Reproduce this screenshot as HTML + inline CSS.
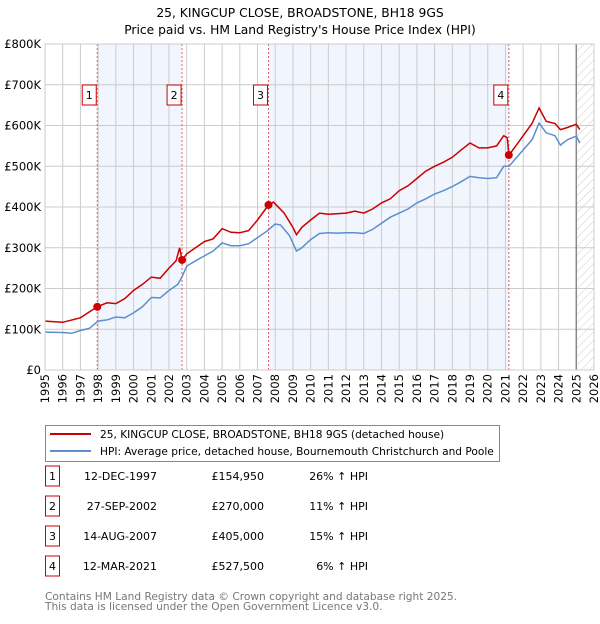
<!DOCTYPE html>
<html><head><meta charset="utf-8"><style>
body{margin:0;background:#fff;font-family:"DejaVu Sans","Liberation Sans",sans-serif;}
svg text{font-family:"DejaVu Sans","Liberation Sans",sans-serif;}
</style></head><body>
<svg id="chart" width="600" height="620" xmlns="http://www.w3.org/2000/svg">
<defs><pattern id="hatch" width="6" height="6" patternUnits="userSpaceOnUse" patternTransform="rotate(45)"><line x1="0" y1="0" x2="0" y2="6" stroke="#ccc" stroke-width="1"/></pattern></defs>
<text x="300" y="17" text-anchor="middle" font-size="12.3">25, KINGCUP CLOSE, BROADSTONE, BH18 9GS</text>
<text x="300" y="34" text-anchor="middle" font-size="12.3">Price paid vs. HM Land Registry's House Price Index (HPI)</text>
<g id="plot"></g>
<g>
<rect x="45.5" y="425.5" width="454" height="36" fill="#fff" stroke="#888"/>
<line x1="50" y1="434" x2="91" y2="434" stroke="#cc0000" stroke-width="2"/>
<text x="100" y="438" font-size="10.6">25, KINGCUP CLOSE, BROADSTONE, BH18 9GS (detached house)</text>
<line x1="50" y1="451" x2="91" y2="451" stroke="#5b8fd0" stroke-width="2"/>
<text x="100" y="455" font-size="10.6">HPI: Average price, detached house, Bournemouth Christchurch and Poole</text>
</g>
<g id="table"></g>
<text x="45" y="600" font-size="10.6" fill="#777">Contains HM Land Registry data © Crown copyright and database right 2025.</text>
<text x="45" y="610" font-size="10.6" fill="#777">This data is licensed under the Open Government Licence v3.0.</text>
</svg>
<script>
const hpiYears=[1995,1996,1996.5,1997,1997.5,1998,1998.5,1999,1999.5,2000,2000.5,2001,2001.5,2002,2002.5,2002.75,2003,2003.5,2004,2004.5,2005,2005.5,2006,2006.5,2007,2007.5,2008,2008.3,2008.8,2009.2,2009.5,2010,2010.5,2011,2011.5,2012,2012.5,2013,2013.5,2014,2014.5,2015,2015.5,2016,2016.5,2017,2017.5,2018,2018.5,2019,2019.5,2020,2020.5,2020.9,2021.2,2021.5,2022,2022.5,2022.9,2023.3,2023.8,2024.1,2024.5,2025.0,2025.2];
const hpiValues=[93,92,90,97,102,120,123,130,128,140,155,178,177,195,210,230,255,268,280,292,312,305,305,310,325,340,358,356,330,292,300,320,335,337,336,337,337,335,345,360,375,385,395,410,420,432,440,450,462,475,472,470,472,500,500,515,540,565,606,582,575,552,565,574,557];
const priceYears=[1995,1996,1997,1997.95,1998.5,1999,1999.5,2000,2000.5,2001,2001.5,2002,2002.4,2002.6,2002.74,2003,2003.5,2004,2004.5,2005,2005.5,2006,2006.5,2007,2007.62,2007.9,2008.5,2009,2009.2,2009.5,2010,2010.5,2011,2012,2012.5,2013,2013.5,2014,2014.5,2015,2015.5,2016,2016.5,2017,2017.5,2018,2018.5,2019,2019.5,2020,2020.5,2020.9,2021.1,2021.2,2021.5,2022,2022.5,2022.9,2023.3,2023.8,2024.1,2024.5,2025.0,2025.2];
const priceValues=[120,117,128,155,165,163,175,195,210,228,225,250,268,300,270,285,300,315,322,347,338,337,342,368,405,412,385,350,332,350,368,385,382,385,390,385,395,410,420,440,452,470,488,500,510,522,540,557,545,545,550,575,570,527.5,545,575,605,643,610,605,590,595,603,590];
const saleDates=[1997.95,2002.74,2007.62,2021.19];
const salePrices=[154.95,270,405,527.5];
const saleLabels=["1","2","3","4"];
const saleDateText=["12-DEC-1997","27-SEP-2002","14-AUG-2007","12-MAR-2021"];
const salePriceText=["£154,950","£270,000","£405,000","£527,500"];
const saleHpiText=["26% ↑ HPI","11% ↑ HPI","15% ↑ HPI","6% ↑ HPI"];
const yTicks=[0,100,200,300,400,500,600,700,800];
const yTickLabels=["£0","£100K","£200K","£300K","£400K","£500K","£600K","£700K","£800K"];
const xTicks=[1995,1996,1997,1998,1999,2000,2001,2002,2003,2004,2005,2006,2007,2008,2009,2010,2011,2012,2013,2014,2015,2016,2017,2018,2019,2020,2021,2022,2023,2024,2025,2026];
const dataEnd=2025.0;

const X0=45,X1=594,Y0=370,Y1=44;
const x=v=>X0+(v-1995)/(2026-1995)*(X1-X0);
const y=v=>Y0-v/800*(Y0-Y1);
const NS="http://www.w3.org/2000/svg";
const plot=document.getElementById('plot');
function mk(tag,attrs,parent,text){const e=document.createElementNS(NS,tag);for(const k in attrs)e.setAttribute(k,attrs[k]);if(text!==undefined)e.textContent=text;(parent||plot).appendChild(e);return e;}
for(let i=0;i<saleDates.length-1;i+=2){
  const r=mk('rect',{x:x(saleDates[i]),y:Y1,width:x(saleDates[i+1])-x(saleDates[i]),height:Y0-Y1,fill:'#eef3fc',opacity:0.8});
  
  
}
const hr=mk('rect',{x:x(dataEnd),y:Y1,width:X1-x(dataEnd),height:Y0-Y1,fill:'url(#hatch)'});


yTicks.forEach((t,i)=>{
  const l=mk('line',{x1:X0,x2:X1,y1:y(t),y2:y(t),stroke:'#ccc'});
  
  
  const tx=mk('text',{x:X0-4,y:y(t)+4,'text-anchor':'end','font-size':11.5},plot,yTickLabels[i]);
  
  
});
xTicks.forEach(t=>{
  const l=mk('line',{x1:x(t),x2:x(t),y1:Y1,y2:Y0,stroke:'#ccc'});
  
  
  const tx=mk('text',{x:0,y:0,'text-anchor':'end','font-size':11.5,transform:`translate(${x(t)+4},${Y0+4}) rotate(-90)`},plot,String(t));
  
  
});
const dl=mk('line',{x1:x(dataEnd),x2:x(dataEnd),y1:Y1,y2:Y0,stroke:'#888','stroke-width':1.5});


saleDates.forEach((d,i)=>{
  const l=mk('line',{x1:x(d),x2:x(d),y1:Y1,y2:Y0,stroke:'#e06060','stroke-dasharray':'2,2'});
  
  
  const g=mk('g',{});
  
  
  mk('rect',{x:x(d)-15,y:85,width:14,height:20,fill:'#fff',stroke:'#cc0000'},g);
  mk('text',{x:x(d)-8,y:99,'text-anchor':'middle','font-size':11},g,saleLabels[i]);
});
function path(xs,vs){return xs.map((v,i)=>(i?'L':'M')+x(v).toFixed(1)+','+y(vs[i]).toFixed(1)).join('');}
const hp=mk('path',{d:path(hpiYears,hpiValues),fill:'none',stroke:'#5b8fd0','stroke-width':1.5});


const pp=mk('path',{d:path(priceYears,priceValues),fill:'none',stroke:'#cc0000','stroke-width':1.5});


saleDates.forEach((d,i)=>{
  const c=mk('circle',{cx:x(d),cy:y(salePrices[i]),r:4,fill:'#cc0000'});
  
  
});
mk('rect',{x:X0,y:Y1,width:X1-X0,height:Y0-Y1,fill:'none',stroke:'#ccc'});
const tb=document.getElementById('table');
saleLabels.forEach((s,i)=>{
  const cy=483+i*30;
  const g=mk('g',{},tb);
  
  
  mk('rect',{x:45.5,y:cy-17,width:14,height:20,fill:'#fff',stroke:'#cc0000'},g);
  mk('text',{x:52.5,y:cy-3,'text-anchor':'middle','font-size':11},g,s);
  mk('text',{x:157,y:cy-3,'text-anchor':'end','font-size':11},g,saleDateText[i]);
  mk('text',{x:264,y:cy-3,'text-anchor':'end','font-size':11},g,salePriceText[i]);
  mk('text',{x:368,y:cy-3,'text-anchor':'end','font-size':11},g,saleHpiText[i]);
});
</script>
</body></html>
